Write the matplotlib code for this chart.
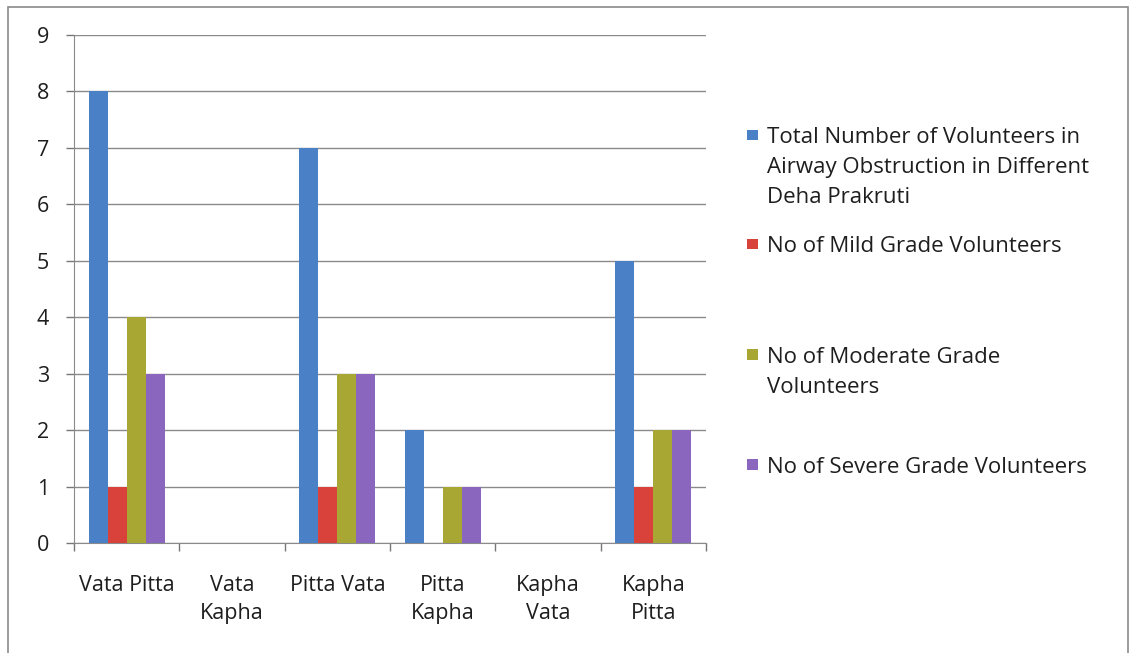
import matplotlib.pyplot as plt
import numpy as np
from matplotlib.patches import Rectangle

categories = ["Vata Pitta", "Vata\nKapha", "Pitta Vata", "Pitta\nKapha", "Kapha\nVata", "Kapha\nPitta"]
total = [8, 0, 7, 2, 0, 5]
mild = [1, 0, 1, 0, 0, 1]
moderate = [4, 0, 3, 1, 0, 2]
severe = [3, 0, 3, 1, 0, 2]
series_labels = [
    "Total Number of Volunteers in\nAirway Obstruction in Different\nDeha Prakruti",
    "No of Mild Grade Volunteers",
    "No of Moderate Grade\nVolunteers",
    "No of Severe Grade Volunteers",
]
y_ticks = list(range(0, 10))

COLORS = ["#4a80c6", "#d8423a", "#a9a733", "#8a66bf"]
FONT = "Open Sans"
TEXT_COLOR = "#1e1e1e"
FS = 15.5

plt.rcParams["font.family"] = [FONT, "DejaVu Sans"]

fig = plt.figure(figsize=(11.37, 6.53), dpi=100)
fig.patch.set_facecolor("white")
ax = fig.add_axes([0.0651, 0.1685, 0.5558, 0.7779])

x = np.arange(len(categories))
width = 0.18
all_series = [total, mild, moderate, severe]
for i, (vals, color) in enumerate(zip(all_series, COLORS)):
    ax.bar(x + (i - 1.5) * width, vals, width, color=color, edgecolor="none", zorder=3)

ax.set_xlim(-0.5, len(categories) - 0.5)
ax.set_ylim(0, 9)
ax.set_yticks(y_ticks)
ax.set_xticks(x)
ax.set_xticklabels(categories, fontsize=FS, color=TEXT_COLOR, linespacing=1.45)
ax.set_xticks(np.arange(-0.5, len(categories)), minor=True)
ax.tick_params(axis="x", which="major", length=0, pad=23)
ax.tick_params(axis="x", which="minor", length=6, width=1, color="#777777", direction="out")
ax.tick_params(axis="y", length=6, width=1, color="#777777", pad=12, labelsize=FS, labelcolor=TEXT_COLOR)
ax.grid(axis="y", color="#8a8a8a", lw=1, zorder=0)

for side in ["top", "right"]:
    ax.spines[side].set_visible(False)
ax.spines["left"].set_color("#8a8a8a")
ax.spines["bottom"].set_color("#8a8a8a")

# legend drawn by hand to keep Excel's uneven spacing
legend_y = [0.793, 0.626, 0.457, 0.288]
for label, color, ly in zip(series_labels, COLORS, legend_y):
    fig.patches.append(Rectangle((0.657, ly - 0.008), 0.0095, 0.0165, transform=fig.transFigure,
                                 facecolor=color, edgecolor="none"))
    fig.text(0.6745, ly + 0.012, label, fontsize=16, color=TEXT_COLOR, va="top", ha="left", linespacing=1.55)

# outer chart border
fig.patches.append(Rectangle((0.007, -0.01), 0.985, 1.0, transform=fig.transFigure,
                             facecolor="none", edgecolor="#8a8a8a", lw=1.2))

fig.savefig("out.png", dpi=100)
